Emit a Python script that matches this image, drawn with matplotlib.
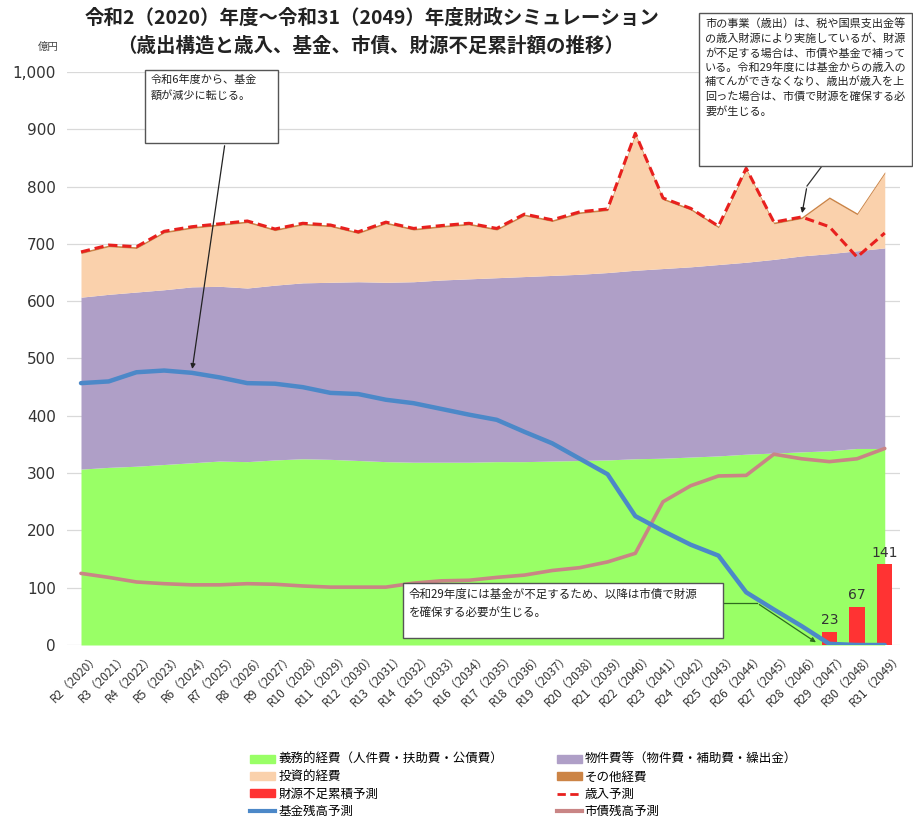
import matplotlib
matplotlib.use("Agg")
import matplotlib.pyplot as plt
from matplotlib.patches import Rectangle, Patch
from matplotlib.lines import Line2D
import numpy as np

plt.rcParams['font.family'] = ['Noto Sans CJK JP', 'DejaVu Sans']

W, H = 913, 827

# fiscal years R2 (2020) .. R31 (2049)
years = [f"R{r}（{2018 + r}）" for r in range(2, 32)]

# stacked expenditure (億円)
mandatory = [307, 310, 312, 315, 318, 321, 320, 323, 325, 324, 322, 320, 319, 319, 319,
             320, 320, 321, 322, 323, 325, 326, 328, 330, 333, 335, 337, 339, 343, 343]
goods_top = [607, 612, 616, 620, 625, 626, 623, 628, 632, 633, 634, 633, 634, 637, 639,
             641, 643, 645, 647, 650, 654, 657, 660, 664, 668, 673, 679, 683, 688, 693]
total_exp = [686, 698, 695, 722, 730, 735, 740, 726, 736, 733, 721, 738, 727, 732, 736,
             727, 752, 742, 756, 761, 893, 780, 762, 731, 832, 738, 747, 782, 754, 826]
other_exp = [3] * 30
revenue = [686, 698, 695, 722, 730, 735, 740, 726, 736, 733, 721, 738, 727, 732, 736,
           727, 752, 742, 756, 761, 893, 780, 762, 731, 832, 738, 747, 730, 677, 719]
fund = [457, 460, 476, 479, 475, 467, 457, 456, 450, 440, 438, 428, 422, 412, 402,
        393, 372, 352, 325, 298, 225, 199, 175, 156, 92, 62, 33, 2, 0, 0]
bonds = [125, 118, 110, 107, 105, 105, 107, 106, 103, 101, 101, 101, 108, 112, 113,
         118, 122, 130, 135, 145, 160, 250, 278, 295, 296, 333, 325, 320, 325, 343]
deficit_years = ["R29", "R30", "R31"]
deficit = [23, 67, 141]

c_green = "#99FF66"
c_purple = "#AF9FC7"
c_peach = "#FAD1AC"
c_brown = "#CC8446"
c_red = "#FF3333"
c_rev = "#E8201E"
c_blue = "#4C88C8"
c_pink = "#C98585"

x = np.arange(len(years))
mandatory = np.array(mandatory)
goods_top = np.array(goods_top)
total_exp = np.array(total_exp)
other_exp = np.array(other_exp)
invest_top = total_exp - other_exp


def fx(px):
    return px / W


def fy(py):
    return 1 - py / H


fig = plt.figure(figsize=(W / 100, H / 100), dpi=100)
ax = fig.add_axes([fx(67), fy(645), fx(900) - fx(67), fy(72) - fy(645)])
ax.set_axisbelow(True)

ax.fill_between(x, 0, mandatory, color=c_green, lw=0, zorder=1)
ax.fill_between(x, mandatory, goods_top, color=c_purple, lw=0, zorder=1)
ax.fill_between(x, goods_top, invest_top, color=c_peach, lw=0, zorder=1)
ax.fill_between(x, invest_top, total_exp, color=c_brown, lw=0, zorder=1)

ax.plot(x, bonds, color=c_pink, lw=2.6, zorder=3, solid_capstyle='round')
ax.plot(x, fund, color=c_blue, lw=3.2, zorder=4, solid_capstyle='round')
ax.plot(x, revenue, color=c_rev, lw=2.2, ls=(0, (3, 1.6)), zorder=5)

bar_idx = [next(i for i, y in enumerate(years) if y.startswith(d + "（")) for d in deficit_years]
ax.bar(bar_idx, deficit, width=0.55, color=c_red, zorder=3.5)
for i, v in zip(bar_idx, deficit):
    ax.text(i, v + 8, str(v), ha='center', va='bottom', fontsize=10, color="#333333",
            family='DejaVu Sans')

ax.set_xlim(-0.505, 29.55)
ax.set_ylim(0, 1000)
ax.set_yticks(range(0, 1001, 100))
ax.set_yticklabels([f"{v:,}" for v in range(0, 1001, 100)], fontsize=11, color="#333333",
                   family='DejaVu Sans')
# tick marks are hidden, labels sit a little right of each category like the source
ax.set_xticks(x + 0.43)
ax.set_xticklabels(years, rotation=45, ha='right', rotation_mode='anchor', fontsize=8.5,
                   color="#333333")
ax.tick_params(axis='both', length=0)
ax.tick_params(axis='y', pad=8)
ax.tick_params(axis='x', pad=4)
ax.grid(axis='y', color="#D9D9D9", lw=0.9)
for s in ax.spines.values():
    s.set_visible(False)

# titles
fig.text(fx(372), fy(18), "令和2（2020）年度～令和31（2049）年度財政シミュレーション",
         ha='center', va='center', fontsize=14, fontweight='bold', color="#222222")
fig.text(fx(371), fy(46), "（歳出構造と歳入、基金、市債、財源不足累計額の推移）",
         ha='center', va='center', fontsize=14, fontweight='bold', color="#222222")
fig.text(fx(48), fy(47), "億円", ha='center', va='center', fontsize=7.5, color="#444444")


def box(x0, y0, x1, y1, text, size):
    fig.add_artist(Rectangle((fx(x0), fy(y1)), fx(x1) - fx(x0), fy(y0) - fy(y1),
                             transform=fig.transFigure, facecolor='white',
                             edgecolor="#555555", lw=1.0, zorder=10))
    return fig.text(fx(x0 + 6), fy(y0 + 5), text, ha='left', va='top', fontsize=size,
                    color="#222222", linespacing=1.45, zorder=11)


box(145, 70, 278, 143, "令和6年度から、基金\n額が減少に転じる。", 8)
box(699, 13, 912, 166,
    "市の事業（歳出）は、税や国県支出金等\nの歳入財源により実施しているが、財源\n"
    "が不足する場合は、市債や基金で補って\nいる。令和29年度には基金からの歳入の\n"
    "補てんができなくなり、歳出が歳入を上\n回った場合は、市債で財源を確保する必\n要が生じる。",
    8)
box(403, 583, 723, 638,
    "令和29年度には基金が不足するため、以降は市債で財源\nを確保する必要が生じる。", 8.3)

arrow = dict(arrowstyle='-|>', color="#222222", lw=0.9, mutation_scale=7)
ax.annotate('', xy=(4, fund[4] + 2), xycoords='data',
            xytext=(225, H - 143), textcoords='figure pixels', arrowprops=arrow)
fig.add_artist(Line2D([fx(822), fx(807)], [fy(166), fy(186)], transform=fig.transFigure,
                      color="#333333", lw=0.9))
ax.annotate('', xy=(26, total_exp[26] + 2), xycoords='data',
            xytext=(807, H - 186), textcoords='figure pixels', arrowprops=arrow)
fig.add_artist(Line2D([fx(723), fx(757)], [fy(603), fy(603)], transform=fig.transFigure,
                      color="#2E6B1E", lw=0.9))
ax.annotate('', xy=(26.6, 2), xycoords='data',
            xytext=(757, H - 603), textcoords='figure pixels',
            arrowprops=dict(arrowstyle='-|>', color="#2E6B1E", lw=0.9, mutation_scale=7))

handles = [
    Patch(color=c_green), Patch(color=c_peach), Patch(color=c_red),
    Line2D([], [], color=c_blue, lw=3),
    Patch(color=c_purple), Patch(color=c_brown),
    Line2D([], [], color=c_rev, lw=2, ls=(0, (3, 1.6))),
    Line2D([], [], color=c_pink, lw=3),
]
labels = [
    "義務的経費（人件費・扶助費・公債費）", "投資的経費", "財源不足累積予測", "基金残高予測",
    "物件費等（物件費・補助費・繰出金）", "その他経費", "歳入予測", "市債残高予測",
]
fig.legend(handles, labels, loc='upper left', bbox_to_anchor=(fx(250), fy(753)), ncol=2,
           frameon=False, fontsize=9, handlelength=2.0, handleheight=0.6,
           handletextpad=0.25, columnspacing=4.3, labelspacing=0.35, borderaxespad=0,
           borderpad=0)

fig.savefig("out.png", dpi=100)
